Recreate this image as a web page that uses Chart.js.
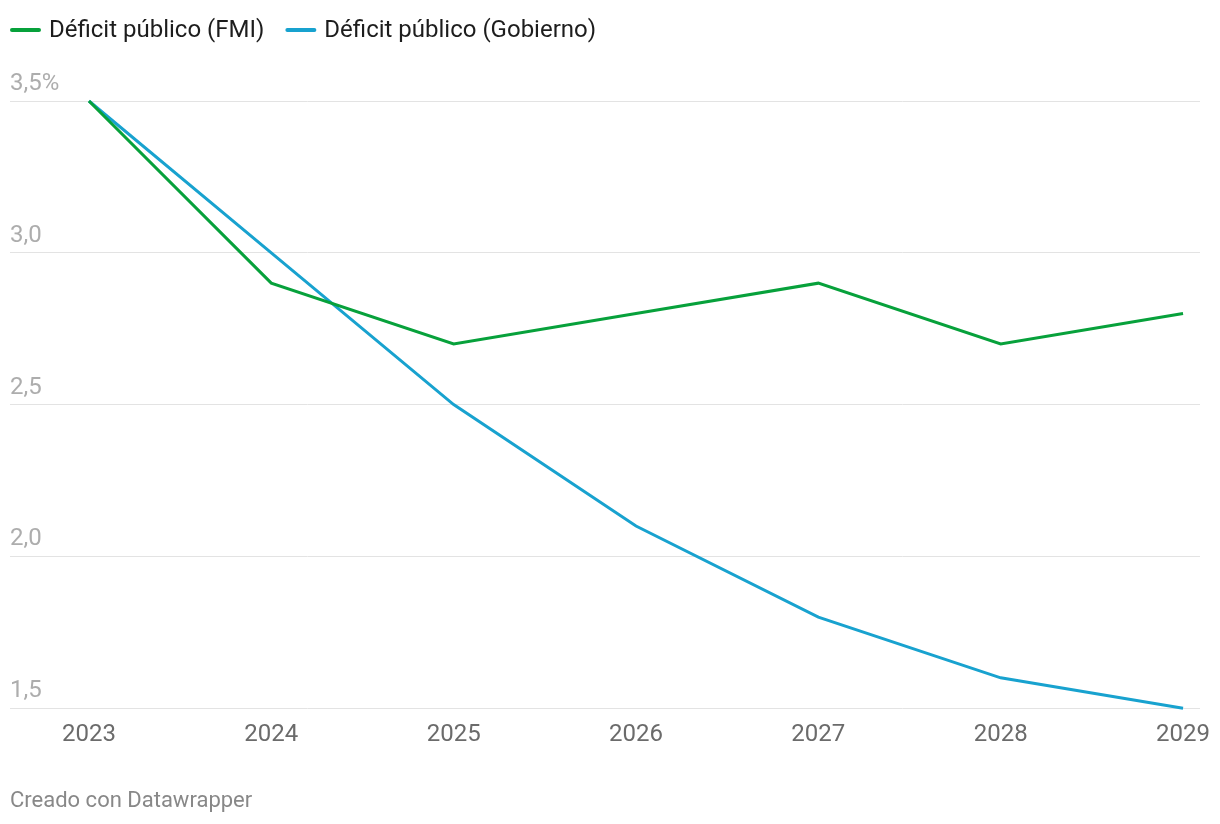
<!DOCTYPE html>
<html>
<head>
<meta charset="utf-8">
<script src="https://cdn.jsdelivr.net/npm/chart.js@4/dist/chart.umd.min.js"></script>
<style>
  html, body { margin: 0; padding: 0; background: #fff; }
  #wrap { width: 1220px; height: 824px; position: relative; }
</style>
</head>
<body>
<div id="wrap"><canvas id="c" width="1220" height="824"></canvas></div>
<script>
const years = [2023, 2024, 2025, 2026, 2027, 2028, 2029];
const fmiValues = [3.5, 2.9, 2.7, 2.8, 2.9, 2.7, 2.8];
const gobiernoValues = [3.5, 3.0, 2.5, 2.1, 1.8, 1.6, 1.5];
const yTickValues = [1.5, 2.0, 2.5, 3.0, 3.5];
const yTickLabels = ['1,5', '2,0', '2,5', '3,0', '3,5%'];
const seriesLabels = ['Déficit público (FMI)', 'Déficit público (Gobierno)'];
const footerText = 'Creado con Datawrapper';

const FONT = 'Roboto, "Noto Sans", sans-serif';
const GREEN = '#07a13b';
const BLUE = '#18a2cf';

const legendFooter = {
  id: 'legendFooter',
  afterDraw(chart) {
    const ctx = chart.ctx;
    ctx.save();
    ctx.font = '24px ' + FONT;
    ctx.textBaseline = 'middle';
    let x = 10;
    const y = 30;
    chart.data.datasets.forEach((ds) => {
      ctx.strokeStyle = ds.borderColor;
      ctx.lineWidth = 4;
      ctx.lineCap = 'round';
      ctx.beginPath();
      ctx.moveTo(x + 2, y);
      ctx.lineTo(x + 29, y);
      ctx.stroke();
      ctx.fillStyle = '#1d1d1d';
      ctx.textAlign = 'left';
      ctx.fillText(ds.label, x + 39, y + 1);
      x += 39 + ctx.measureText(ds.label).width + 21;
    });
    ctx.font = '22px ' + FONT;
    ctx.fillStyle = '#888888';
    ctx.fillText(footerText, 10, 801);
    ctx.restore();
  }
};

new Chart(document.getElementById('c'), {
  type: 'line',
  data: {
    datasets: [
      {
        label: seriesLabels[0],
        data: years.map((yr, i) => ({ x: yr, y: fmiValues[i] })),
        borderColor: GREEN,
        backgroundColor: GREEN,
        borderWidth: 3,
        pointRadius: 0,
        tension: 0,
        clip: false
      },
      {
        label: seriesLabels[1],
        data: years.map((yr, i) => ({ x: yr, y: gobiernoValues[i] })),
        borderColor: BLUE,
        backgroundColor: BLUE,
        borderWidth: 3,
        pointRadius: 0,
        tension: 0,
        clip: false
      }
    ]
  },
  options: {
    responsive: false,
    animation: false,
    events: [],
    layout: { padding: { left: 10, right: 20, top: 101, bottom: 63 } },
    plugins: {
      legend: { display: false },
      tooltip: { enabled: false }
    },
    scales: {
      x: {
        type: 'linear',
        min: 2022.567,
        max: 2029.093,
        grid: { display: false, drawTicks: false },
        border: { display: false },
        afterFit: (axis) => { axis.paddingLeft = 0; axis.paddingRight = 0; },
        ticks: {
          stepSize: 1,
          includeBounds: false,
          autoSkip: false,
          maxRotation: 0,
          padding: 12,
          color: '#6b6b6b',
          font: { family: FONT, size: 24 },
          callback: (v) => (years.includes(v) ? String(v) : '')
        }
      },
      y: {
        min: 1.5,
        max: 3.5,
        grid: { color: '#e3e3e3', lineWidth: 1, drawTicks: false },
        border: { display: false },
        afterBuildTicks: (axis) => { axis.ticks = yTickValues.map(v => ({ value: v })); },
        ticks: {
          mirror: true,
          padding: 0,
          labelOffset: -17,
          color: '#adadad',
          font: { family: FONT, size: 24 },
          callback: (v) => {
            const i = yTickValues.findIndex(t => Math.abs(t - v) < 1e-9);
            return i >= 0 ? yTickLabels[i] : '';
          }
        }
      }
    }
  },
  plugins: [legendFooter]
});
</script>
</body>
</html>
